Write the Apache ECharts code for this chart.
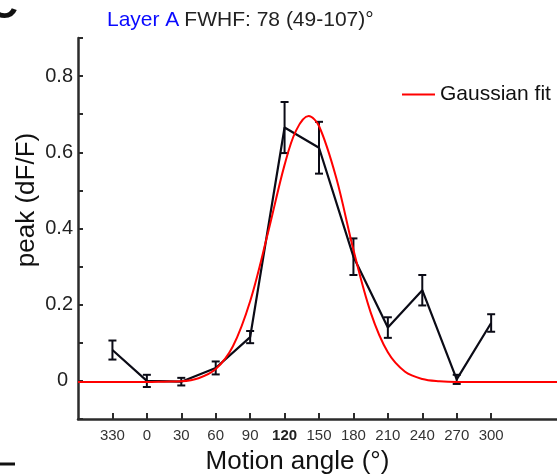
<!DOCTYPE html>
<html>
<head>
<meta charset="utf-8">
<script src="https://cdn.jsdelivr.net/npm/echarts@6.0.0/dist/echarts.min.js"></script>
<style>
html,body{margin:0;padding:0;background:#fff;}
#chart{width:557px;height:475px;}
</style>
</head>
<body>
<div id="chart"></div>
<script>
// Motion angles (plotted positions, 330 shown as -30) and their tick labels
var angles = [-30, 0, 30, 60, 90, 120, 150, 180, 210, 240, 270, 300];
var angleLabels = ['330', '0', '30', '60', '90', '120', '150', '180', '210', '240', '270', '300'];
// Mean peak dF/F and error (half-length of the error bar)
var peak = [0.081, 0.0, -0.002, 0.034, 0.115, 0.665, 0.612, 0.326, 0.140, 0.238, 0.004, 0.152];
var peakErr = [0.025, 0.016, 0.010, 0.017, 0.016, 0.067, 0.068, 0.048, 0.027, 0.040, 0.012, 0.023];
// Gaussian fit curve
var fitAngles = [-60, -30, 0, 15, 30, 45, 60, 75, 90, 105, 120, 130, 141, 150, 165, 180, 195, 210, 225, 240, 255, 270, 300, 330, 360];
var fitValues = [-0.003, -0.003, -0.003, -0.002, -0.001, 0.007, 0.031, 0.091, 0.209, 0.382, 0.567, 0.657, 0.695, 0.669, 0.533, 0.344, 0.180, 0.075, 0.024, 0.005, -0.001, -0.003, -0.003, -0.003, -0.003];
var yTickLabels = ['0', '0.2', '0.4', '0.6', '0.8'];
var xAxisName = 'Motion angle (°)';
var yAxisName = 'peak (dF/F)';

var chart = echarts.init(document.getElementById('chart'));
var FONT = 'Liberation Sans, Arial, Helvetica, sans-serif';
var AX = '#2b2b2b';

var lineData = angles.map(function (a, i) { return [a, peak[i]]; });
var errData = angles.map(function (a, i) { return [a, peak[i] - peakErr[i], peak[i] + peakErr[i]]; });
var fitData = fitAngles.map(function (a, i) { return [a, fitValues[i]]; });

chart.setOption({
  animation: false,
  backgroundColor: '#fff',
  title: {
    left: 107, top: 10, padding: 0,
    text: '{b|Layer A} {n|FWHF: 78 (49-107)°}',
    textStyle: {
      fontWeight: 'normal',
      rich: {
        b: { color: '#0a0aff', fontSize: 21, fontFamily: FONT, fontWeight: 'normal' },
        n: { color: '#222', fontSize: 21, fontFamily: FONT, fontWeight: 'normal' }
      }
    }
  },
  graphic: [
    { type: 'text', left: -11, top: -13, style: { text: 'C', font: 'bold 40px ' + FONT, fill: '#111' } },
    { type: 'rect', shape: { x: 0, y: 462.5, width: 15, height: 3 }, style: { fill: '#111' } },
    { type: 'text', x: 297.5, y: 462, style: { text: xAxisName, font: '26px ' + FONT, fill: '#111', align: 'center', verticalAlign: 'middle' } },
    { type: 'text', x: 27, y: 200, rotation: Math.PI / 2, style: { text: yAxisName, font: '26px ' + FONT, fill: '#111', align: 'center', verticalAlign: 'middle' } }
  ],
  legend: {
    data: ['Gaussian fit'],
    left: 402, top: 84, padding: 0,
    icon: 'rect', itemWidth: 33, itemHeight: 2, itemGap: 8,
    textStyle: { fontSize: 21, fontFamily: FONT, color: '#111', padding: [0, 0, 0, 0] }
  },
  grid: { left: 78, top: 38, width: 482, height: 381, containLabel: false, outerBoundsMode: 'none' },
  xAxis: {
    type: 'value', min: -60, max: 360,
    axisLine: { show: true, onZero: false, lineStyle: { color: AX, width: 2.5 } },
    axisTick: { show: true, inside: true, length: 6, customValues: angles, lineStyle: { color: AX, width: 2 } },
    axisLabel: {
      customValues: angles, margin: 9, fontSize: 15, fontFamily: FONT, color: '#333',
      formatter: function (v) {
        var i = angles.indexOf(Math.round(v));
        if (i < 0) return '';
        return angleLabels[i] === '120' ? '{bold|120}' : angleLabels[i];
      },
      rich: { bold: { fontWeight: 'bold', fontSize: 15, fontFamily: FONT, color: '#222' } }
    },
    splitLine: { show: false }
  },
  yAxis: {
    type: 'value', min: -0.1, max: 0.9, interval: 0.1,
    axisLine: { show: true, onZero: false, lineStyle: { color: AX, width: 2.5 } },
    axisTick: { show: true, inside: true, length: 5, lineStyle: { color: AX, width: 2 } },
    axisLabel: {
      margin: 5, fontSize: 20, fontFamily: FONT, color: '#222',
      formatter: function (v) {
        var k = Math.round(v * 10);
        if (k < 0 || k % 2 !== 0 || k > 8) return '';
        var s = yTickLabels[k / 2];
        return s === '0' ? '{z|0}' : s;
      },
      rich: { z: { fontSize: 20, fontFamily: FONT, color: '#222', padding: [0, 5, 0, 0] } }
    },
    splitLine: { show: false }
  },
  series: [
    {
      name: 'peak', type: 'line', data: lineData, showSymbol: false, symbol: 'none',
      lineStyle: { color: '#0b0b16', width: 2.2 }, z: 3
    },
    {
      name: 'err', type: 'custom', data: errData, z: 4,
      renderItem: function (params, api) {
        var x = api.value(0);
        var lo = api.coord([x, api.value(1)]);
        var hi = api.coord([x, api.value(2)]);
        var w = 4;
        var st = { stroke: '#0b0b16', lineWidth: 2 };
        return {
          type: 'group',
          children: [
            { type: 'line', shape: { x1: lo[0], y1: lo[1], x2: hi[0], y2: hi[1] }, style: st },
            { type: 'line', shape: { x1: lo[0] - w, y1: lo[1], x2: lo[0] + w, y2: lo[1] }, style: st },
            { type: 'line', shape: { x1: hi[0] - w, y1: hi[1], x2: hi[0] + w, y2: hi[1] }, style: st }
          ]
        };
      }
    },
    {
      name: 'Gaussian fit', type: 'line', data: fitData, smooth: 0.35, showSymbol: false, symbol: 'none',
      lineStyle: { color: '#ff0000', width: 2 }, itemStyle: { color: '#ff0000' }, z: 5
    }
  ]
});
</script>
</body>
</html>
